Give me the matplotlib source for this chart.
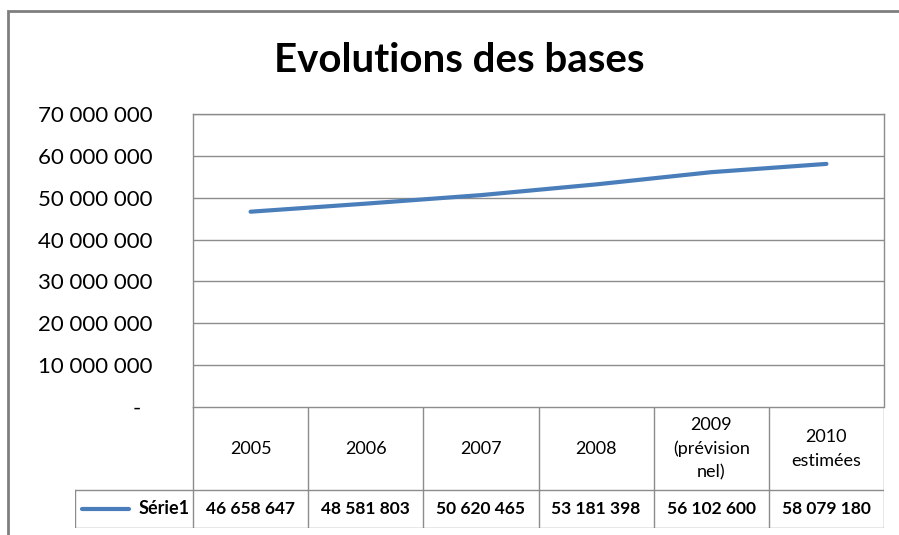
import matplotlib
matplotlib.use("Agg")
import matplotlib.pyplot as plt
from matplotlib.patches import Rectangle
from matplotlib.ticker import FuncFormatter

plt.rcParams['font.family'] = ['Lato', 'DejaVu Sans']

years = ["2005", "2006", "2007", "2008", "2009\n(prévision\nnel)", "2010\nestimées"]
bases = [46658647, 48581803, 50620465, 53181398, 56102600, 58079180]
series_name = "Série1"
title = "Evolutions des bases"

W, H = 899, 535
fig = plt.figure(figsize=(W / 100, H / 100), dpi=100)

def px(x0, y0, x1, y1):
    # pixel box (top-left origin) -> figure fraction rect
    return [x0 / W, 1 - y1 / H, (x1 - x0) / W, (y1 - y0) / H]

grey = "#8c8c8c"
blue = "#4a7ebb"

# outer chart frame (cut off on the right and bottom like the screenshot)
fig.patches.append(Rectangle((8 / W, -0.1), 1.2, 1 - 11 / H + 0.1,
                             transform=fig.transFigure, fill=False,
                             edgecolor="#7f7f7f", linewidth=2))

fig.text(459 / W, 1 - 60 / H, title, ha="center", va="center",
         fontsize=29, fontweight="bold", color="black")

# main plot
ax = fig.add_axes(px(193, 114, 884, 407))
x = list(range(len(bases)))
ax.plot(x, bases, color=blue, linewidth=3, solid_capstyle="round")
ax.set_xlim(-0.5, len(bases) - 0.5)
ax.set_ylim(0, 70e6)
ax.set_yticks(range(0, 70000001, 10000000))
ax.yaxis.set_major_formatter(FuncFormatter(
    lambda v, p: "-  " if v == 0 else f"{int(v):,}".replace(",", " ")))
ax.tick_params(axis="y", length=0, pad=29, labelsize=16, labelcolor="black")
ax.set_xticks([])
ax.grid(axis="y", color=grey, linewidth=1)
for s in ax.spines.values():
    s.set_color(grey)
    s.set_linewidth(1)
ax.spines["bottom"].set_visible(False)

# data table under the plot
col_w = (884 - 193) / len(bases)
left_extra = (193 - 75) / col_w
tab = fig.add_axes(px(75, 407, 884, 528))
tab.set_xlim(-0.5 - left_extra, len(bases) - 0.5)
tab.set_ylim(0, 121)
tab.axis("off")
lc = dict(color=grey, linewidth=1)
tab.plot([-0.5, len(bases) - 0.5], [121, 121], **lc)
tab.plot([-0.5 - left_extra, len(bases) - 0.5], [38, 38], **lc)
tab.plot([-0.5 - left_extra, len(bases) - 0.5], [0, 0], **lc)
tab.plot([-0.5 - left_extra] * 2, [0, 38], **lc)
for i in range(len(bases) + 1):
    tab.plot([i - 0.5] * 2, [0, 121], **lc)
for i, (yr, v) in enumerate(zip(years, bases)):
    tab.text(i, 79, yr, ha="center", va="center", fontsize=13,
             linespacing=1.55, color="black")
    tab.text(i, 19, f"{v:,}".replace(",", " "), ha="center", va="center",
             fontsize=12.5, fontweight="bold", color="black")
tab.plot([-0.5 - left_extra + 0.06, -0.5 - left_extra + 0.47], [19, 19],
         color=blue, linewidth=3, solid_capstyle="round")
tab.text(-0.53, 19, series_name, ha="right", va="center", fontsize=13,
         fontweight="bold", color="black")

fig.savefig("out.png", dpi=100)
